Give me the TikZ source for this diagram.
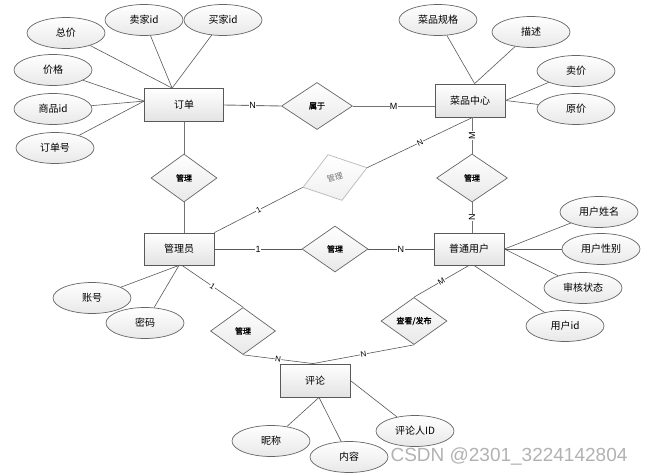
\documentclass[tikz,border=0pt]{standalone}
\usepackage{fontspec}
\setmainfont{Liberation Sans}
\newfontfamily\cjk{Noto Sans CJK SC}
\newfontfamily\cjkb{Noto Sans CJK SC}[FakeBold=1.2]
\usetikzlibrary{shapes.geometric,calc}
\tikzset{
  ent/.style={draw=black!65, line width=0.8pt, rectangle, minimum width=70pt, minimum height=33pt,
    top color=white, bottom color=gray!22, inner sep=0pt, font=\cjk\fontsize{10}{12}\selectfont},
  attr/.style={draw=black!60, line width=0.7pt, ellipse, minimum width=78pt, minimum height=31pt,
    top color=white, bottom color=gray!18, inner sep=0pt, font=\cjk\fontsize{10}{12}\selectfont},
  rel/.style={draw=black!60, line width=0.7pt, diamond, minimum width=66pt, minimum height=47pt,
    top color=white, bottom color=gray!18, inner sep=0pt, font=\cjkb\fontsize{8}{10}\selectfont},
  grayrel/.style={rel, draw=gray!55, text=black!55, font=\cjk\fontsize{8}{10}\selectfont, bottom color=gray!12},
  link/.style={draw=black!55, line width=0.9pt},
  alink/.style={draw=black!65, line width=0.6pt},
  card/.style={fill=white, inner sep=0.4pt, font=\fontsize{9}{10}\selectfont},
  scard/.style={card, sloped, font=\fontsize{8}{9}\selectfont},
  wmark/.style={text=black!30, font=\fontsize{19}{22}\selectfont},
}
\begin{document}
\begin{tikzpicture}[x=1pt,y=-1pt]
\useasboundingbox[fill=white] (0,0) rectangle (649,476);

% entities
\node[ent, minimum width=79pt] (order) at (184,105) {订单};
\node[ent] (dish) at (470,100.5) {菜品中心};
\node[ent, minimum height=32pt] (admin) at (179,249) {管理员};
\node[ent, minimum height=32pt] (user) at (469,249) {普通用户};
\node[ent] (comment) at (315,380.5) {评论};

% attributes
\node[attr] (total) at (66,33) {总价};
\node[attr] (seller) at (144,20) {卖家id};
\node[attr] (buyer) at (223,20) {买家id};
\node[attr] (price) at (53,70) {价格};
\node[attr] (gid) at (53,109) {商品id};
\node[attr] (ono) at (55,148) {订单号};
\node[attr] (spec) at (438,20) {菜品规格};
\node[attr] (desc) at (531,32) {描述};
\node[attr] (sell) at (576,71) {卖价};
\node[attr] (orig) at (576,109) {原价};
\node[attr] (uname) at (599,212) {用户姓名};
\node[attr] (usex) at (601,249) {用户性别};
\node[attr] (ustate) at (583,288) {审核状态};
\node[attr] (uid) at (565,326) {用户id};
\node[attr] (acct) at (92,298) {账号};
\node[attr] (pwd) at (145,323) {密码};
\node[attr] (nick) at (271,441) {昵称};
\node[attr] (cont) at (349,457) {内容};
\node[attr] (cid) at (415,431) {评论人ID};

% relations
\node[rel, minimum width=71pt] (belong) at (317,106) {属于};
\node[rel, minimum height=48pt] (r1) at (184,178) {管理};
\node[grayrel, minimum width=67pt, minimum height=48pt, rotate=17] (r2) at (335,177.5) {管理};
\node[rel, minimum height=46pt] (r3) at (335,249) {管理};
\node[rel, minimum width=71pt, minimum height=48pt] (r4) at (472,178) {管理};
\node[rel, minimum width=65pt] (r5) at (243,331) {管理};
\node[rel] (r6) at (414,321) {查看/发布};

% attribute links
\coordinate (otop) at ([xshift=28pt]order.north west);
\coordinate (oleft) at ([yshift=-13pt]order.north west);
\draw[alink] (total) -- (otop);
\draw[alink] (seller) -- (otop);
\draw[alink] (buyer) -- (otop);
\draw[alink] (price) -- (oleft);
\draw[alink] (gid) -- (oleft);
\draw[alink] (ono) -- (oleft);
\coordinate (dtop) at ([xshift=40pt]dish.north west);
\draw[alink] (spec) -- (dtop);
\draw[alink] (desc) -- (dtop);
\draw[alink] (sell) -- (dish.east);
\draw[alink] (orig) -- (dish.east);
\draw[alink] (uname) -- (user.east);
\draw[alink] (usex) -- (user.east);
\draw[alink] (ustate) -- (user.east);
\draw[alink] (uid) -- ([xshift=5pt]user.south);
\draw[alink] (acct) -- (admin.south);
\draw[alink] (pwd) -- (admin.south);
\draw[alink] (nick) -- ([xshift=4pt]comment.south);
\draw[alink] (cont) -- ([xshift=4pt]comment.south);
\draw[alink] (cid) -- (comment.east);

% relationship links
\draw[link] (order.east) -- node[card, midway] {N} (belong.west);
\draw[link] (belong.east) -- node[card, midway] {M} (dish.west |- belong.east);
\draw[link] (order.south) -- (r1.north);
\draw[link] (r1.south) -- (r1.south |- admin.north);
\draw[alink] (admin.north east) -- node[scard, midway] {1} (r2.west);
\draw[alink] (r2.east) -- node[scard, midway] {N} ([xshift=38pt]dish.south west);
\draw[link] (r4.north |- dish.south) -- node[card, midway, rotate=90] {M} (r4.north);
\draw[link] (r4.south) -- node[card, midway, rotate=90] {N} (r4.south |- user.north);
\draw[alink] (admin.east) -- node[card, midway] {1} (r3.west);
\draw[alink] (r3.east) -- node[card, midway] {N} (user.west);
\draw[alink] ([xshift=3pt]admin.south) -- node[scard, midway] {1} (r5.north);
\draw[alink] (r5.south) -- node[scard, midway] {N} ([xshift=-2pt]comment.north);
\draw[alink] (user.south) -- node[scard, midway] {M} (r6.north);
\draw[alink] (r6.south) -- node[scard, midway] {N} ([xshift=-2pt]comment.north);

% watermark
\node[wmark] (wm) at (509,457) {CSDN @2301\_3224142804};
\end{tikzpicture}
\end{document}
